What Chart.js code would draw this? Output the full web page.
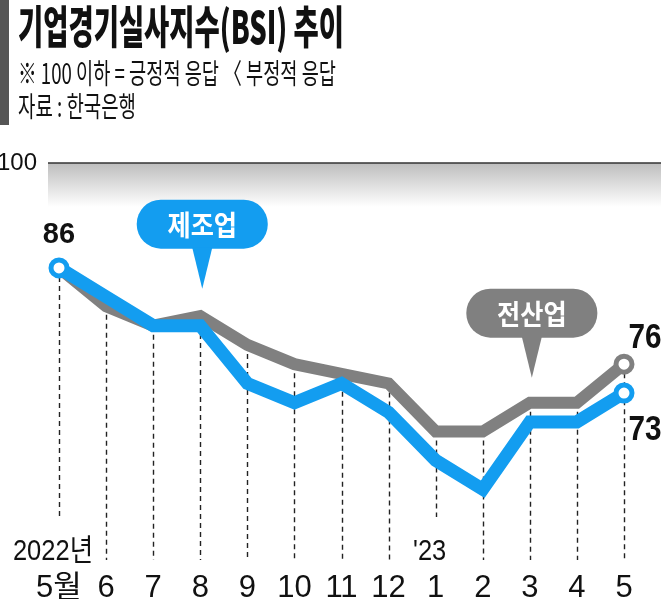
<!DOCTYPE html>
<html><head><meta charset="utf-8">
<script src="https://cdn.jsdelivr.net/npm/chart.js@4"></script>
<style>
html,body{margin:0;padding:0;background:#fff;}
#wrap{position:relative;width:661px;height:599px;overflow:hidden;}
canvas{position:absolute;left:0;top:0;}
.bar{position:absolute;left:0;top:0;width:9px;height:125px;background:#555;}
.hd{position:absolute;left:18px;white-space:nowrap;transform-origin:0 0;font-family:'Noto Sans CJK KR',sans-serif;color:#111;}
#t1{top:2px;font-size:45px;font-weight:900;line-height:45px;}
#t2{top:58px;font-size:28px;line-height:28px;}
#t3{top:91px;font-size:28px;line-height:28px;}
</style></head>
<body><div id="wrap">
<canvas id="c" width="661" height="599"></canvas>
<div class="bar"></div>
<div class="hd" id="t1" data-w="326">기업경기실사지수(BSI) 추이</div>
<div class="hd" id="t2" data-w="318">※ 100 이하 = 긍정적 응답 〈 부정적 응답</div>
<div class="hd" id="t3" data-w="118">자료 : 한국은행</div>
</div>
<script>
// ---- data ----
const months = ['5월','6','7','8','9','10','11','12','1','2','3','4','5'];
const yearLabels = ['2022년','','','','','','','',"'23",'','','',''];
const manufacturing = [86,83,80,80,74,72,74,71,66,63,70,70,73];
const allIndustry   = [86,82,80,81,78,76,75,74,69,69,72,72,76];
const seriesNames = ['제조업','전산업'];
const yTickLabels = ['100'];

const BLUE = '#139df0';
const GRAY = '#808080';
const SANS = "'Liberation Sans','Noto Sans CJK KR',sans-serif";
const CJK = "'Noto Sans CJK KR',sans-serif";

document.querySelectorAll('.hd').forEach(el=>{
  const w = +el.dataset.w;
  const cur = el.getBoundingClientRect().width;
  el.style.transform = 'scaleX(' + (w/cur) + ')';
});

const last = months.length - 1;

function narrowText(ctx, text, x, y, sx){
  ctx.save();
  ctx.translate(x, y);
  ctx.scale(sx, 1);
  ctx.fillText(text, 0, 0);
  ctx.restore();
}

const deco = {
  id:'deco',
  beforeDatasetsDraw(chart){
    const {ctx, chartArea:a, scales:{x,y}} = chart;
    ctx.save();
    const bandLeft = a.left - 11;
    const g = ctx.createLinearGradient(0, a.top, 0, a.top + 44);
    g.addColorStop(0, '#bdbdbd');
    g.addColorStop(1, '#ffffff');
    ctx.fillStyle = g;
    ctx.fillRect(bandLeft, a.top, chart.width - bandLeft, 44);
    ctx.strokeStyle = '#333';
    ctx.lineWidth = 1.5;
    ctx.beginPath(); ctx.moveTo(bandLeft, a.top); ctx.lineTo(chart.width, a.top); ctx.stroke();
    // dashed guides
    ctx.setLineDash([5,4]);
    ctx.lineWidth = 1.4;
    ctx.strokeStyle = '#222';
    months.forEach((m,i)=>{
      const px = Math.round(x.getPixelForValue(i)) + 0.5;
      const top = y.getPixelForValue(Math.max(manufacturing[i], allIndustry[i]));
      const bottom = yearLabels[i] ? a.bottom - 43 : a.bottom;
      ctx.beginPath(); ctx.moveTo(px, top); ctx.lineTo(px, bottom); ctx.stroke();
    });
    ctx.restore();
  },
  afterDatasetsDraw(chart){
    const {ctx, chartArea:a, scales:{x,y}} = chart;
    ctx.save();
    // year labels
    ctx.fillStyle = '#111';
    ctx.font = '30px ' + SANS;
    ctx.textAlign = 'center';
    ctx.textBaseline = 'alphabetic';
    yearLabels.forEach((t,i)=>{ if(t) narrowText(ctx, t, x.getPixelForValue(i) - 6, a.bottom, 0.85); });
    // value labels
    ctx.textAlign = 'center';
    ctx.font = 'bold 29px ' + SANS;
    narrowText(ctx, String(manufacturing[0]), x.getPixelForValue(0), y.getPixelForValue(manufacturing[0]) - 25, 1);
    ctx.font = 'bold 35px ' + SANS;
    narrowText(ctx, String(allIndustry[last]), x.getPixelForValue(last) + 21, y.getPixelForValue(allIndustry[last]) - 16, 0.85);
    narrowText(ctx, String(manufacturing[last]), x.getPixelForValue(last) + 21, y.getPixelForValue(manufacturing[last]) + 47, 0.85);
    // callout bubbles
    const bubbles = [
      {text: seriesNames[0], color: BLUE, index: 3, value: manufacturing[3], dy: -37},
      {text: seriesNames[1], color: GRAY, index: 10, value: allIndustry[10], dy: -25}
    ];
    bubbles.forEach(b=>{
      const tx = x.getPixelForValue(b.index) + 2;
      const ty = y.getPixelForValue(b.value) + b.dy;
      const w = 131, h = 49, gap = 40;
      const bx = tx - w/2, by = ty - gap - h;
      ctx.fillStyle = b.color;
      ctx.beginPath();
      ctx.roundRect(bx, by, w, h, 24);
      ctx.fill();
      ctx.beginPath();
      ctx.moveTo(tx - 10, by + h - 1);
      ctx.lineTo(tx + 10, by + h - 1);
      ctx.lineTo(tx, ty);
      ctx.closePath();
      ctx.fill();
      ctx.fillStyle = '#fff';
      ctx.font = 'bold 28px ' + CJK;
      ctx.textAlign = 'center';
      ctx.textBaseline = 'middle';
      narrowText(ctx, b.text, tx, by + h/2 + 1, 0.9);
    });
    ctx.restore();
  }
};

const endPoint = (ctx) => (ctx.dataIndex === last ? 8 : 0);

new Chart(document.getElementById('c'), {
  type: 'line',
  data: {
    labels: months,
    datasets: [
      {
        label: seriesNames[0], data: manufacturing,
        borderColor: BLUE, borderWidth: 13, borderJoinStyle: 'miter', borderCapStyle: 'butt',
        pointRadius: (c)=> (c.dataIndex === 0 || c.dataIndex === last) ? 8 : 0,
        pointBackgroundColor: '#fff', pointBorderColor: BLUE, pointBorderWidth: 5,
        tension: 0, clip: false
      },
      {
        label: seriesNames[1], data: allIndustry,
        borderColor: GRAY, borderWidth: 12, borderJoinStyle: 'miter', borderCapStyle: 'butt',
        pointRadius: endPoint,
        pointBackgroundColor: '#fff', pointBorderColor: GRAY, pointBorderWidth: 5,
        tension: 0, clip: false
      }
    ]
  },
  options: {
    responsive: false,
    animation: false,
    devicePixelRatio: 1,
    layout: { padding: { top: 163, right: 37, bottom: 0, left: 0 } },
    plugins: { legend: { display: false }, tooltip: { enabled: false }, title: { display: false } },
    scales: {
      x: {
        offset: false,
        grid: { display: false, drawTicks: false },
        border: { display: false },
        afterFit: (s)=>{ s.height = 39; },
        ticks: { color: '#111', font: { family: SANS, size: 31, lineHeight: 1 }, padding: 13, autoSkip: false, maxRotation: 0 }
      },
      y: {
        min: 55.65, max: 96.9,
        grid: { display: false, drawTicks: false },
        border: { display: false },
        afterBuildTicks: (s)=>{ s.ticks = [{ value: s.max }]; },
        afterFit: (s)=>{ s.width = 59; },
        ticks: { color: '#111', padding: 22, font: { family: SANS, size: 24 }, callback: ()=> yTickLabels[0] }
      }
    }
  },
  plugins: [deco]
});
</script>
</body></html>
